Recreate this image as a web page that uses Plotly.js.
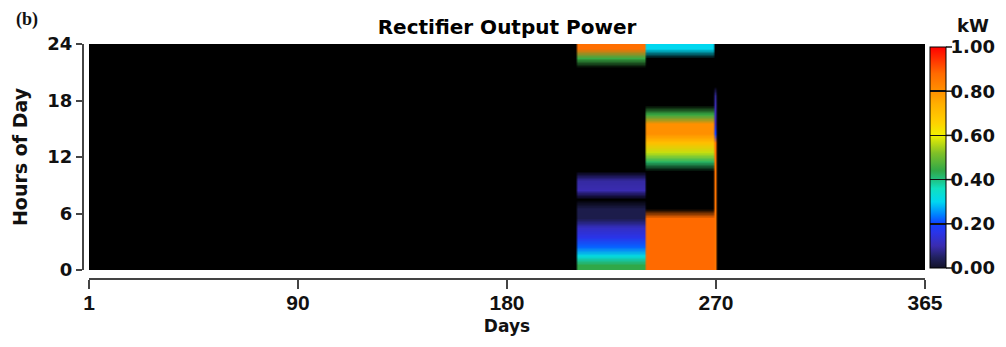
<!DOCTYPE html>
<html>
<head>
<meta charset="utf-8">
<script src="https://cdn.plot.ly/plotly-3.0.1.min.js"></script>
<style>html,body{margin:0;padding:0;background:#fff;}#chart{width:1006px;height:347px;}</style>
</head>
<body>
<div id="chart"></div>
<script>
// ---- data (kW), hour-of-day profiles for each active period ----
const dayCount = 365;
const hourCount = 24;
const xTickLabels = ['1', '90', '180', '270', '365'];
const yTickLabels = [0, 6, 12, 18, 24];
const cbTickValues = [0, 0.2, 0.4, 0.6, 0.8, 1.0];

// period 1: days 214-243
const period1Days = [214, 243];
const period1Profile = [0.44, 0.32, 0.22, 0.16, 0.12, 0.03, 0.03, null, 0.10, 0.09,
  null, null, null, null, null, null, null, null, null, null, null, null, 0.45, 0.87];
// period 2: days 244-273
const period2Days = [244, 273];
const period2Profile = [0.88, 0.88, 0.88, 0.88, 0.88, 0.88, null, null, null, null,
  null, 0.42, 0.57, 0.70, 0.80, 0.80, 0.45, null, null, null, null, null, null, 0.30];
// single transition day
const edgeDay = [274, 274];
const edgeProfile = [0.86, 0.86, 0.86, 0.86, 0.86, 0.86, 0.86, 0.86, 0.86, 0.86,
  0.86, 0.86, 0.86, 0.86, 0.20, 0.10, 0.10, 0.10, 0.08, null, null, null, null, null];

const periods = [
  {days: period1Days, profile: period1Profile},
  {days: period2Days, profile: period2Profile},
  {days: edgeDay, profile: edgeProfile}
];

const days = [];
for (let d = 1; d <= dayCount; d++) days.push(d);
const hourCentres = [];
for (let h = 0; h < hourCount; h++) hourCentres.push(h + 0.5);

const z = hourCentres.map((_, h) => days.map(d => {
  for (const p of periods) {
    if (d >= p.days[0] && d <= p.days[1]) return p.profile[h];
  }
  return null;
}));

const colorscale = [
  [0.00, '#121228'], [0.05, '#222262'], [0.10, '#3a2cb0'], [0.16, '#2a34e8'],
  [0.20, '#1040ff'], [0.24, '#0080ff'], [0.30, '#00d8f0'], [0.36, '#10e0c0'],
  [0.40, '#20c080'], [0.44, '#30a848'], [0.52, '#80c028'], [0.60, '#f0f000'],
  [0.66, '#ffd000'], [0.74, '#ffb000'], [0.80, '#ff9000'], [0.88, '#ff6a00'],
  [1.00, '#ff0000']
];

// ---- layout geometry ----
const W = 1006, H = 347;
const mL = 40, mR = 81, mT = 44, mB = 30;
const pw = W - mL - mR, ph = H - mT - mB;
const plotLeftPx = 89, yAxisPx = 83, plotBottomPx = 270, xAxisPx = 279;
const xDomainStart = (plotLeftPx - mL) / pw;
const yDomainStart = (H - mB - plotBottomPx) / ph;
const yAxisPos = (yAxisPx - mL) / pw;
const xAxisPos = (H - mB - xAxisPx) / ph;
const cbBottom = (H - mB - 268) / ph;
const cbTop = (H - mB - 47) / ph;
const cbLen = cbTop - cbBottom;
const cbX = (930 - mL) / pw;

const xMin = 0.5, xMax = dayCount + 0.5;
const xTickVals = xTickLabels.map((_, i) => xMin + i * (xMax - xMin) / (xTickLabels.length - 1));

const axisColor = '#444';
const txt = '#111';

const trace = {
  type: 'heatmap',
  x: days,
  y: hourCentres,
  z: z,
  zmin: 0, zmax: 1,
  zsmooth: 'fast',
  colorscale: colorscale,
  hoverongaps: false,
  colorbar: {
    x: cbX, xanchor: 'left', xpad: 0,
    y: cbBottom, yanchor: 'bottom', ypad: 0,
    len: cbLen, lenmode: 'fraction',
    thickness: 16, thicknessmode: 'pixels',
    outlinecolor: '#000', outlinewidth: 1,
    tickmode: 'array', tickvals: cbTickValues,
    tickformat: '.2f', tickprefix: '\u2002\u2009',
    ticks: 'inside', ticklen: 16, tickwidth: 1.5, tickcolor: '#111',
    tickfont: {family: 'DejaVu Sans', size: 18, color: txt, weight: 'bold'}
  }
};

const stubShapes = cbTickValues.map(v => ({
  type: 'line', xref: 'paper', yref: 'paper', layer: 'above',
  x0: cbX + 16 / pw, x1: cbX + 22 / pw,
  y0: cbBottom + v * cbLen, y1: cbBottom + v * cbLen,
  line: {color: '#111', width: 1.5}
}));

const layout = {
  width: W, height: H,
  margin: {l: mL, r: mR, t: mT, b: mB, pad: 0, autoexpand: false},
  paper_bgcolor: '#fff',
  plot_bgcolor: '#000',
  showlegend: false,
  title: {
    text: 'Rectifier Output Power',
    font: {family: 'DejaVu Sans', size: 20, color: '#000', weight: 'bold'},
    xref: 'container', x: 507 / W, xanchor: 'center',
    yref: 'container', y: 1 - 27 / H, yanchor: 'middle'
  },
  xaxis: {
    domain: [xDomainStart, 1],
    range: [xMin, xMax],
    anchor: 'free', position: xAxisPos,
    showgrid: false, zeroline: false,
    showline: true, linecolor: axisColor, linewidth: 2,
    ticks: 'outside', ticklen: 9, tickwidth: 2, tickcolor: axisColor,
    ticklabelstandoff: -4,
    tickmode: 'array', tickvals: xTickVals, ticktext: xTickLabels,
    tickfont: {family: 'Liberation Sans', size: 21, color: txt, weight: 'bold'},
    title: {text: 'Days', standoff: 6, font: {family: 'DejaVu Sans', size: 17, color: txt, weight: 'bold'}}
  },
  yaxis: {
    domain: [yDomainStart, 1],
    range: [0, 24],
    anchor: 'free', position: yAxisPos,
    showgrid: false, zeroline: false,
    showline: true, linecolor: axisColor, linewidth: 2,
    ticks: 'outside', ticklen: 6, tickwidth: 2, tickcolor: axisColor,
    tickmode: 'array', tickvals: yTickLabels,
    tickfont: {family: 'DejaVu Sans', size: 18, color: txt, weight: 'bold'},
    title: {text: 'Hours of Day', standoff: 14, font: {family: 'DejaVu Sans', size: 19, color: txt, weight: 'bold'}}
  },
  shapes: stubShapes,
  annotations: [{
    text: '(b)', xref: 'paper', yref: 'paper', showarrow: false,
    x: (27 - mL) / pw, y: (H - mB - 19) / ph, xanchor: 'center', yanchor: 'middle',
    font: {family: 'Liberation Serif', size: 18, color: txt, weight: 'bold'}
  }, {
    text: 'kW', xref: 'paper', yref: 'paper', showarrow: false,
    x: (955 - mL) / pw, y: (H - mB - 25) / ph, xanchor: 'left', yanchor: 'middle',
    font: {family: 'DejaVu Sans', size: 18, color: txt, weight: 'bold'}
  }]
};

Plotly.newPlot('chart', [trace], layout, {displayModeBar: false, staticPlot: true});
</script>
</body>
</html>
